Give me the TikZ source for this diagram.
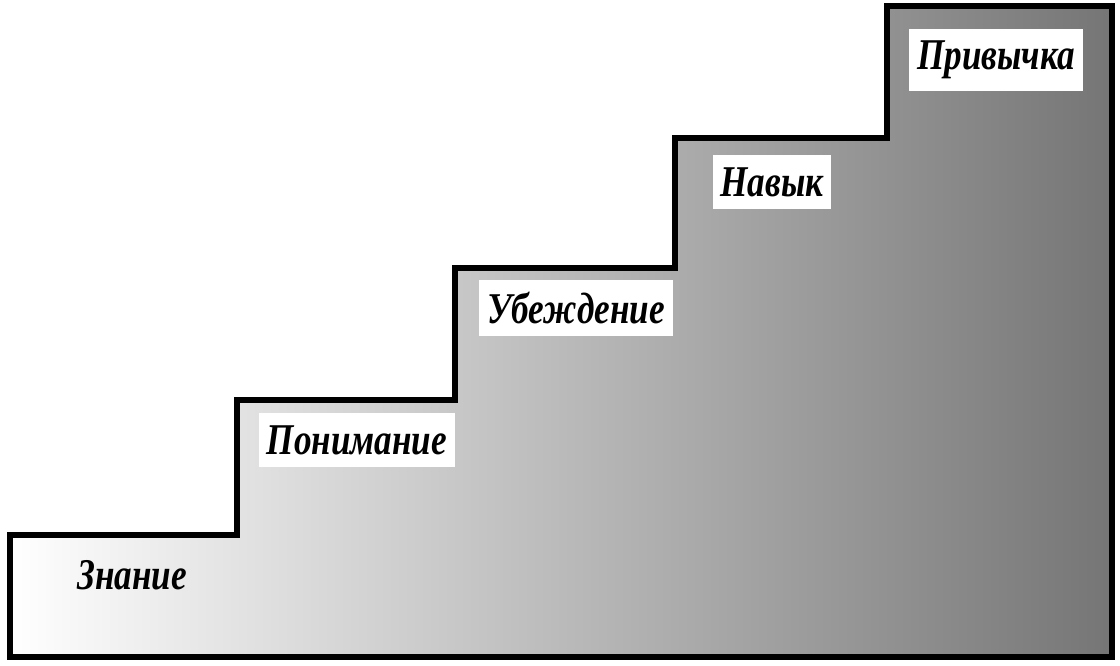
\documentclass[tikz,border=0pt]{standalone}
\usepackage{fontspec}
\setmainfont{Liberation Serif}
\newfontfamily\stairfont[FakeStretch=0.8]{Liberation Serif}
\usepackage{tikz}
\usetikzlibrary{positioning}

\begin{document}
\begin{tikzpicture}[x=0.02cm, y=-0.02cm,
    stair/.style={line width=3.4pt, line join=miter},
    steplabel/.style={font=\stairfont\bfseries\itshape\fontsize{25}{30}\selectfont, inner sep=0pt},
    stepbox/.style={steplabel, fill=white, inner xsep=0.16cm, inner ysep=0.24cm}]
    \useasboundingbox (0,0) rectangle (1120,666);

    % Staircase
    \shade[left color=white, right color=black!54]
        (10,657) -- (10,535) -- (237,535) -- (237,400) -- (455,400) -- (455,268)
        -- (675,268) -- (675,138) -- (887,138) -- (887,6) -- (1112,6) -- (1112,657) -- cycle;
    \draw[stair]
        (10,657) -- (10,535) -- (237,535) -- (237,400) -- (455,400) -- (455,268)
        -- (675,268) -- (675,138) -- (887,138) -- (887,6) -- (1112,6) -- (1112,657) -- cycle;

    % Steps
    \node[steplabel] (znanie) at (132,575) {Знание};
    \node[stepbox] (ponimanie) at (357,440) {Понимание};
    \node[stepbox] (ubezhdenie) at (576,308) {Убеждение};
    \node[stepbox] (navyk) at (772,182) {Навык};
    \node[stepbox] (privychka) at (996,60) {Привычка};
\end{tikzpicture}
\end{document}
